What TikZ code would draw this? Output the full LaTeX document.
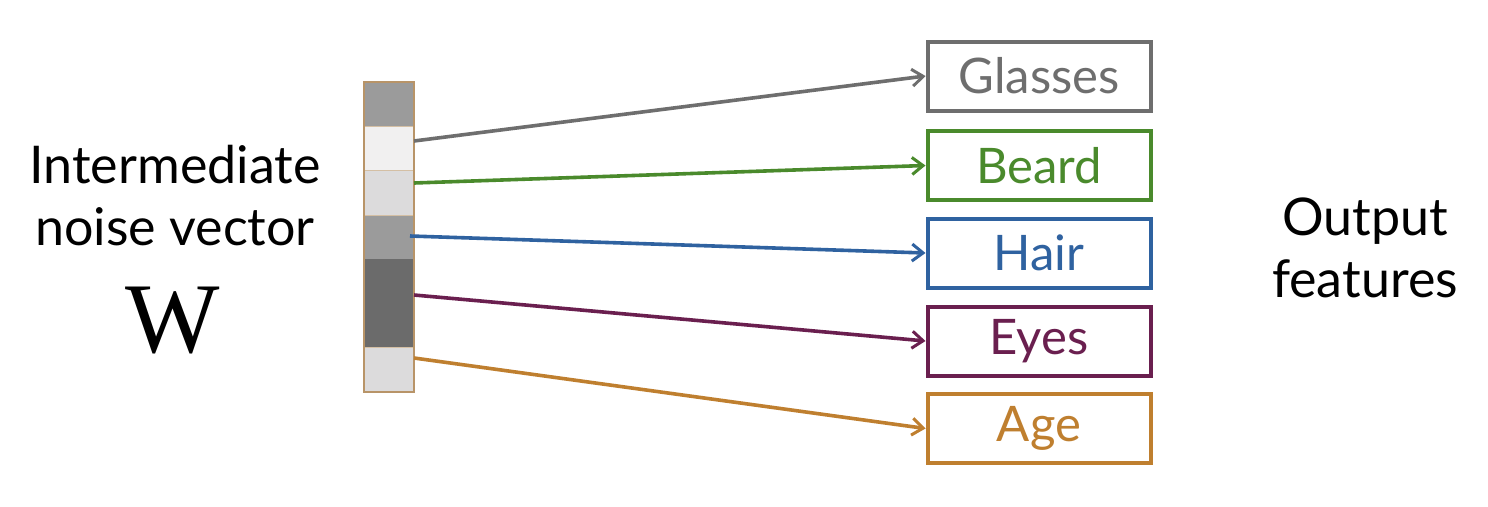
\documentclass[tikz,border=0pt]{standalone}
\usepackage{fontspec}
\setmainfont{Lato}
\newfontfamily\wfont{Liberation Serif}
\usetikzlibrary{arrows.meta}
\definecolor{cgray}{HTML}{6E6E6E}
\definecolor{cgreen}{HTML}{4A8A2C}
\definecolor{cblue}{HTML}{2F62A0}
\definecolor{cpurple}{HTML}{6A1F4F}
\definecolor{corange}{HTML}{BF7F2F}
\definecolor{vborder}{HTML}{B89468}
\definecolor{vmid}{HTML}{9B9B9B}
\definecolor{vpale}{HTML}{F1F0F0}
\definecolor{vlight}{HTML}{DCDBDC}
\definecolor{vdark}{HTML}{6B6B6B}
\tikzset{
  featbox/.style={draw=#1, text=#1, line width=4pt, minimum width=223pt, minimum height=69pt, inner sep=0pt,
    font=\fontsize{49}{55}\selectfont},
  featarrow/.style={draw=#1, line width=3.6pt, -{Straight Barb[length=11pt,width=17pt,line width=3pt]}},
  cell/.style={fill=#1, draw=none, minimum width=50pt, minimum height=44.3pt, inner sep=0pt},
  bigtext/.style={font=\fontsize{52}{62}\selectfont, text=black, inner sep=0pt}
}
\begin{document}
\begin{tikzpicture}[x=1pt,y=-1pt]
\useasboundingbox (0,0) rectangle (1488,506);
\fill[white] (0,0) rectangle (1488,506);
% vector cells
\node[cell=vmid]   (c1) at (389,104.1) {};
\node[cell=vpale]  (c2) at (389,148.4) {};
\node[cell=vlight] (c3) at (389,192.7) {};
\node[cell=vmid]   (c4) at (389,237.0) {};
\node[cell=vdark]  (c5) at (389,281.3) {};
\node[cell=vdark]  (c6) at (389,325.6) {};
\node[cell=vlight] (c7) at (389,369.9) {};
\foreach \a in {c1,c2,c3,c6}
  \draw[vborder!60!white, line width=1pt] (\a.south west) -- (\a.south east);
\node[draw=vborder, line width=2pt, minimum width=50pt, minimum height=310pt, inner sep=0pt] (vec) at (389,237) {};
% start points
\coordinate (s1) at (414,141);
\coordinate (s2) at (414,183);
\coordinate (s3) at (410,236);
\coordinate (s4) at (414,295);
\coordinate (s5) at (414,358);
% boxes
\node[featbox=cgray]   (glasses) at (1039,76)    {Glasses};
\node[featbox=cgreen]  (beard)   at (1039,165.5) {Beard};
\node[featbox=cblue]   (hair)    at (1039,253)   {Hair};
\node[featbox=cpurple] (eyes)    at (1039,341)   {Eyes};
\node[featbox=corange] (age)     at (1039,428.5) {Age};
% arrows
\draw[featarrow=cgray]   (s1) -- (glasses.west);
\draw[featarrow=cgreen]  (s2) -- (beard.west);
\draw[featarrow=cblue]   (s3) -- (hair.west);
\draw[featarrow=cpurple] (s4) -- (eyes.west);
\draw[featarrow=corange] (s5) -- (age.west);
% labels
\node[bigtext, anchor=base] (inter) at (175,183) {Intermediate};
\node[bigtext, anchor=base] (noise) at (175,245) {noise vector};
\node[anchor=base, inner sep=0pt, font=\wfont\fontsize{100}{100}\selectfont] (w) at (173,352) {W};
\node[bigtext, anchor=base] (out)  at (1365,235) {Output};
\node[bigtext, anchor=base] (feat) at (1365,297) {features};
\end{tikzpicture}
\end{document}
